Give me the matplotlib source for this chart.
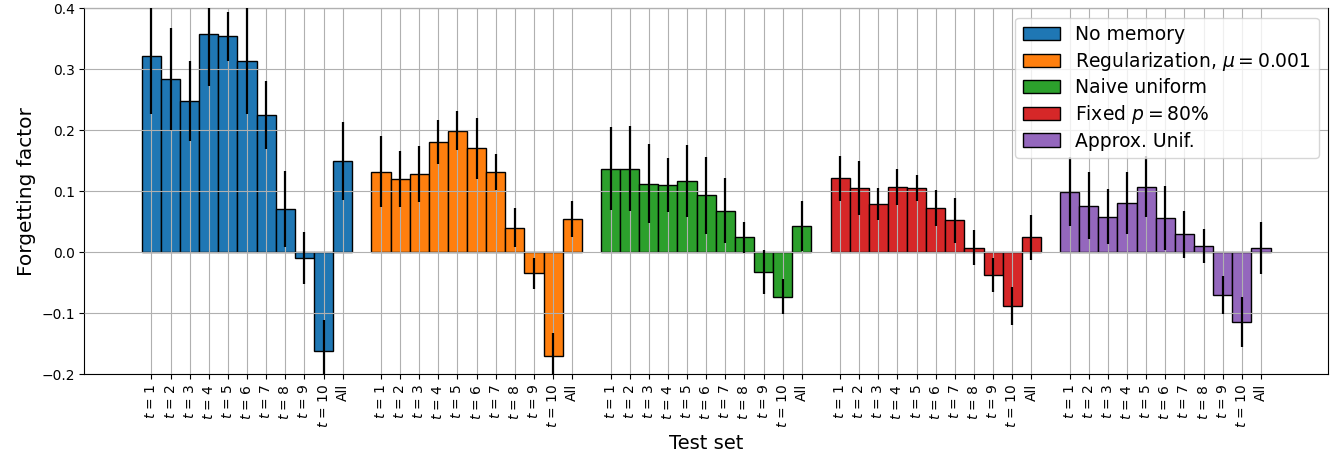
import numpy as np
import matplotlib
matplotlib.use('Agg')
import matplotlib.pyplot as plt

# ------------------------------ data ------------------------------
methods = ['No memory', r'Regularization, $\mu = 0.001$', 'Naive uniform',
           r'Fixed $p = 80\%$', 'Approx. Unif.']
colors = ['tab:blue', 'tab:orange', 'tab:green', 'tab:red', 'tab:purple']
test_sets = [r'$t$ = %d' % i for i in range(1, 11)] + ['All']

no_memory = [0.322, 0.284, 0.248, 0.357, 0.354, 0.314, 0.225, 0.071, -0.010, -0.163, 0.149]
no_memory_err = [0.096, 0.083, 0.066, 0.085, 0.040, 0.087, 0.056, 0.062, 0.043, 0.052, 0.064]

regularization = [0.132, 0.120, 0.128, 0.180, 0.199, 0.170, 0.131, 0.040, -0.035, -0.171, 0.054]
regularization_err = [0.058, 0.046, 0.046, 0.036, 0.032, 0.050, 0.030, 0.032, 0.026, 0.038, 0.030]

naive_uniform = [0.137, 0.137, 0.112, 0.110, 0.117, 0.093, 0.068, 0.024, -0.032, -0.073, 0.042]
naive_uniform_err = [0.068, 0.070, 0.065, 0.044, 0.059, 0.063, 0.053, 0.025, 0.036, 0.029, 0.041]

fixed_p80 = [0.121, 0.105, 0.079, 0.107, 0.105, 0.072, 0.052, 0.007, -0.038, -0.089, 0.024]
fixed_p80_err = [0.037, 0.044, 0.026, 0.029, 0.021, 0.030, 0.037, 0.029, 0.028, 0.031, 0.037]

approx_unif = [0.099, 0.076, 0.058, 0.080, 0.107, 0.056, 0.029, 0.010, -0.070, -0.114, 0.007]
approx_unif_err = [0.057, 0.055, 0.045, 0.051, 0.050, 0.053, 0.038, 0.028, 0.031, 0.041, 0.043]

values = [no_memory, regularization, naive_uniform, fixed_p80, approx_unif]
errors = [no_memory_err, regularization_err, naive_uniform_err, fixed_p80_err, approx_unif_err]

# ------------------------------ plot ------------------------------
fig = plt.figure(figsize=(13.4, 4.55), dpi=100)
ax = fig.add_axes([0.063, 0.178, 0.928, 0.804])

n = len(test_sets)
tick_pos = []
tick_lab = []
for g in range(len(methods)):
    x = np.arange(n) + g * (n + 1)
    ax.bar(x, values[g], width=1.0, color=colors[g], edgecolor='black',
           linewidth=1.0, label=methods[g], zorder=1)
    ax.errorbar(x, values[g], yerr=errors[g], fmt='none', ecolor='black',
                elinewidth=1.6, capsize=0, zorder=3)
    tick_pos += list(x)
    tick_lab += test_sets

ax.set_xticks(tick_pos)
ax.set_xticklabels(tick_lab, rotation=90, fontsize=10)
ax.tick_params(axis='y', labelsize=10)
ax.set_xlim(-3.5, 61.5)
ax.set_ylim(-0.2, 0.4)
ax.set_xlabel('Test set', fontsize=14)
ax.set_ylabel('Forgetting factor', fontsize=14.5)
ax.grid(True, color='#b0b0b0', linewidth=0.8, zorder=2)
ax.set_axisbelow(False)
for line in ax.get_xgridlines() + ax.get_ygridlines():
    line.set_zorder(2)

ax.legend(loc='upper right', fontsize=13.5, labelspacing=0.3)

plt.savefig('out.png')
